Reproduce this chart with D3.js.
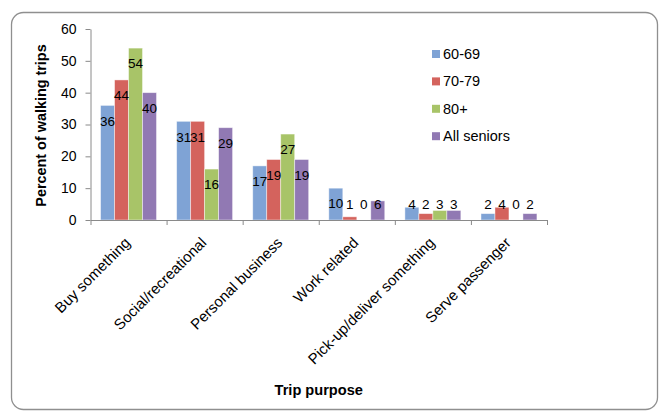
<!DOCTYPE html>
<html>
<head>
<meta charset="utf-8">
<script src="https://cdn.jsdelivr.net/npm/d3@7"></script>
<style>
  html, body { margin: 0; padding: 0; background: #fff; }
  svg { display: block; font-family: Arial, "Liberation Sans", sans-serif; }
</style>
</head>
<body>
<svg id="chart" width="660" height="412"></svg>
<script>
// Trip purposes along the x axis
const categories = ["Buy something", "Social/recreational", "Personal business",
                    "Work related", "Pick-up/deliver something", "Serve passenger"];
// Age groups (one bar per group in each purpose)
const seriesNames = ["60-69", "70-79", "80+", "All seniors"];
// Percent of walking trips, per age group
const values6069 = [36, 31, 17, 10, 4, 2];
const values7079 = [44, 31, 19, 1, 2, 4];
const values80 = [54, 16, 27, 0, 3, 0];
const valuesAll = [40, 29, 19, 6, 3, 2];
const yTicks = [0, 10, 20, 30, 40, 50, 60];
const colors = ["#7FA3D5", "#D4635D", "#A8C468", "#9179B3"];

const seriesValues = [values6069, values7079, values80, valuesAll];

const svg = d3.select("#chart");

// Rounded chart frame
svg.append("rect")
  .attr("x", 11.5).attr("y", 12.5)
  .attr("width", 646).attr("height", 397)
  .attr("rx", 12).attr("ry", 12)
  .attr("fill", "#fff")
  .attr("stroke", "#8f8f8f")
  .attr("stroke-width", 1.3);

const plot = { left: 90.5, right: 547, top: 29, bottom: 220 };

const x = d3.scaleBand()
  .domain(categories)
  .range([plot.left, plot.right])
  .paddingInner(0).paddingOuter(0);

const xSub = d3.scaleBand()
  .domain(seriesNames)
  .range([0, x.bandwidth()])
  .paddingInner(0).paddingOuter(0.72);

const y = d3.scaleLinear().domain([0, 60]).range([plot.bottom, plot.top]);

// Bars
const rows = categories.map((c, i) => ({
  category: c,
  items: seriesNames.map((s, k) => ({ series: s, value: seriesValues[k][i], color: colors[k] }))
}));

const groups = svg.append("g").selectAll("g")
  .data(rows).join("g")
  .attr("transform", d => `translate(${x(d.category)},0)`);

groups.selectAll("rect")
  .data(d => d.items).join("rect")
  .attr("x", d => xSub(d.series))
  .attr("y", d => y(d.value))
  .attr("width", xSub.bandwidth())
  .attr("height", d => y(0) - y(d.value))
  .attr("fill", d => d.color)
  .attr("stroke", "rgba(255,255,255,0.55)")
  .attr("stroke-width", 0.8);

// Value labels, inside the bar end, kept above the axis
groups.selectAll("text")
  .data(d => d.items).join("text")
  .attr("x", d => xSub(d.series) + xSub.bandwidth() / 2)
  .attr("y", d => Math.min(y(d.value) + 15.5, y(0) - 15.5))
  .attr("dy", "0.35em")
  .attr("text-anchor", "middle")
  .attr("font-size", "13.5px")
  .attr("fill", "#000")
  .text(d => d.value);

// Y axis
const yAxis = svg.append("g")
  .attr("transform", `translate(${plot.left},0)`)
  .call(d3.axisLeft(y).tickValues(yTicks).tickSize(5).tickPadding(9).tickSizeOuter(0));
yAxis.select(".domain").attr("stroke", "#8a8a8a");
yAxis.selectAll(".tick line").attr("stroke", "#8a8a8a");
yAxis.selectAll(".tick text")
  .attr("font-size", "14px")
  .attr("font-family", "Arial, 'Liberation Sans', sans-serif")
  .attr("fill", "#000");

// X axis: tick marks between categories
const xEdges = d3.scaleLinear().domain([0, categories.length]).range([plot.left, plot.right]);
const xAxis = svg.append("g")
  .attr("transform", `translate(0,${plot.bottom})`)
  .call(d3.axisBottom(xEdges).tickValues(d3.range(categories.length + 1))
        .tickSize(5).tickSizeOuter(0).tickFormat(""));
xAxis.select(".domain").attr("stroke", "#8a8a8a");
xAxis.selectAll(".tick line").attr("stroke", "#8a8a8a");

// X category labels, rotated
const xLabels = svg.append("g")
  .attr("transform", `translate(0,${plot.bottom})`)
  .call(d3.axisBottom(x).tickSize(0).tickPadding(0));
xLabels.select(".domain").remove();
xLabels.selectAll(".tick text")
  .attr("font-size", "15px")
  .attr("font-family", "Arial, 'Liberation Sans', sans-serif")
  .attr("fill", "#000")
  .attr("text-anchor", "end")
  .attr("x", 0).attr("y", 0).attr("dy", "0.35em")
  .attr("transform", "translate(-1,20) rotate(-45)");

// Axis titles
svg.append("text")
  .attr("transform", `translate(46,${(plot.top + plot.bottom) / 2 + 1}) rotate(-90)`)
  .attr("text-anchor", "middle")
  .attr("font-size", "14.4px")
  .attr("font-weight", "bold")
  .text("Percent of walking trips");

svg.append("text")
  .attr("x", (plot.left + plot.right) / 2)
  .attr("y", 395)
  .attr("text-anchor", "middle")
  .attr("font-size", "14.6px")
  .attr("font-weight", "bold")
  .text("Trip purpose");

// Legend
const legend = svg.append("g").attr("transform", "translate(432,54)");
const li = legend.selectAll("g")
  .data(seriesNames).join("g")
  .attr("transform", (d, i) => `translate(0,${i * 27.4})`);
li.append("rect")
  .attr("x", 0).attr("y", -4)
  .attr("width", 8).attr("height", 8)
  .attr("fill", (d, i) => colors[i]);
li.append("text")
  .attr("x", 11).attr("y", 0).attr("dy", "0.35em")
  .attr("font-size", "14.5px")
  .attr("fill", "#000")
  .text(d => d);
</script>
</body>
</html>
